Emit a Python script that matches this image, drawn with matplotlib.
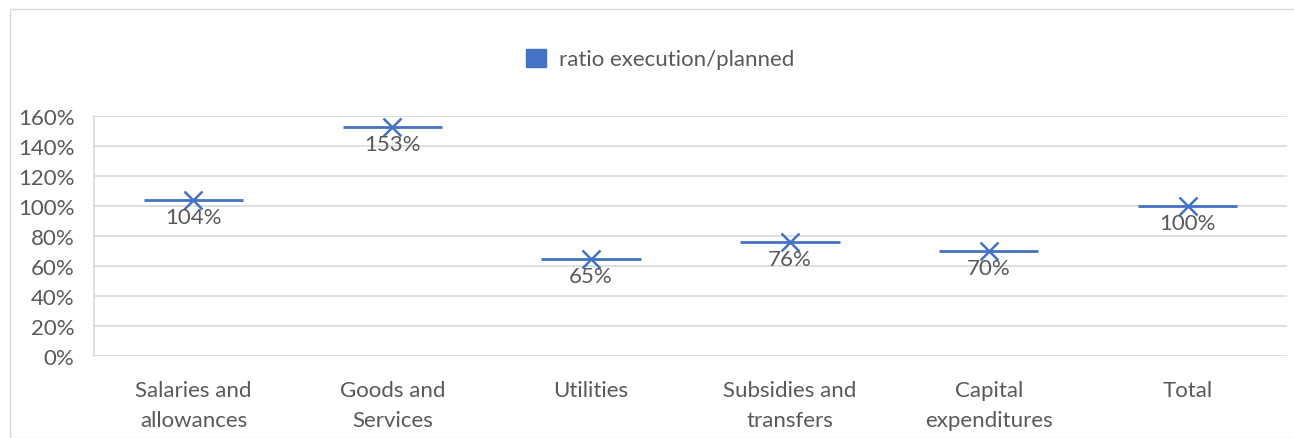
import numpy as np
import matplotlib
matplotlib.use('Agg')
from matplotlib import pyplot as plt
from matplotlib.patches import Patch, Rectangle
from matplotlib.ticker import PercentFormatter

categories = ['Salaries and\nallowances', 'Goods and\nServices', 'Utilities',
              'Subsidies and\ntransfers', 'Capital\nexpenditures', 'Total']
ratio = [104, 153, 65, 76, 70, 100]
labels = ['104%', '153%', '65%', '76%', '70%', '100%']

plt.rcParams['font.family'] = ['Lato', 'DejaVu Sans']
blue = '#4472C4'
grey_txt = '#595959'

fig = plt.figure(figsize=(12.94, 4.39), dpi=100)
ax = fig.add_axes([94 / 1294, 1 - 357 / 439, (1287 - 94) / 1294, 240 / 439])

# outer chart border
fig.patches.append(Rectangle((10 / 1294, 0), 1.2, 1 - 10 / 439, transform=fig.transFigure,
                             fill=False, edgecolor='#d9d9d9', linewidth=1))

x = np.arange(len(categories))
ax.hlines(ratio, x - 0.25, x + 0.25, color=blue, linewidth=2, zorder=3)
ax.plot(x, ratio, linestyle='none', marker='x', markersize=13, markeredgewidth=1.8,
        color=blue, zorder=4)
for xi, v, t in zip(x, ratio, labels):
    ax.text(xi, v - 5, t, ha='center', va='top', fontsize=16, color=grey_txt, zorder=5)

ax.set_xlim(-0.5, len(categories) - 0.5)
ax.set_ylim(0, 160)
ax.set_yticks(range(0, 161, 20))
ax.yaxis.set_major_formatter(PercentFormatter(decimals=0))
ax.set_xticks(x)
ax.set_xticklabels(categories, fontsize=16, color=grey_txt, linespacing=1.65)
ax.tick_params(axis='y', labelsize=16, labelcolor=grey_txt, length=0, pad=14)
ax.tick_params(axis='x', length=0, pad=17)
ax.grid(axis='y', color='#d9d9d9', linewidth=1.2)
ax.set_axisbelow(True)
for s in ['top', 'right', 'bottom']:
    ax.spines[s].set_visible(False)
ax.spines['left'].set_color('#d9d9d9')
ax.spines['left'].set_linewidth(1.2)

fig.legend(handles=[Patch(facecolor=blue, edgecolor=blue, label='ratio execution/planned')],
           loc='center', bbox_to_anchor=(660 / 1294, 1 - 60 / 439), frameon=False,
           fontsize=16, labelcolor=grey_txt, handlelength=0.9, handleheight=0.9,
           handletextpad=0.6)

plt.savefig('out.png', dpi=100)
